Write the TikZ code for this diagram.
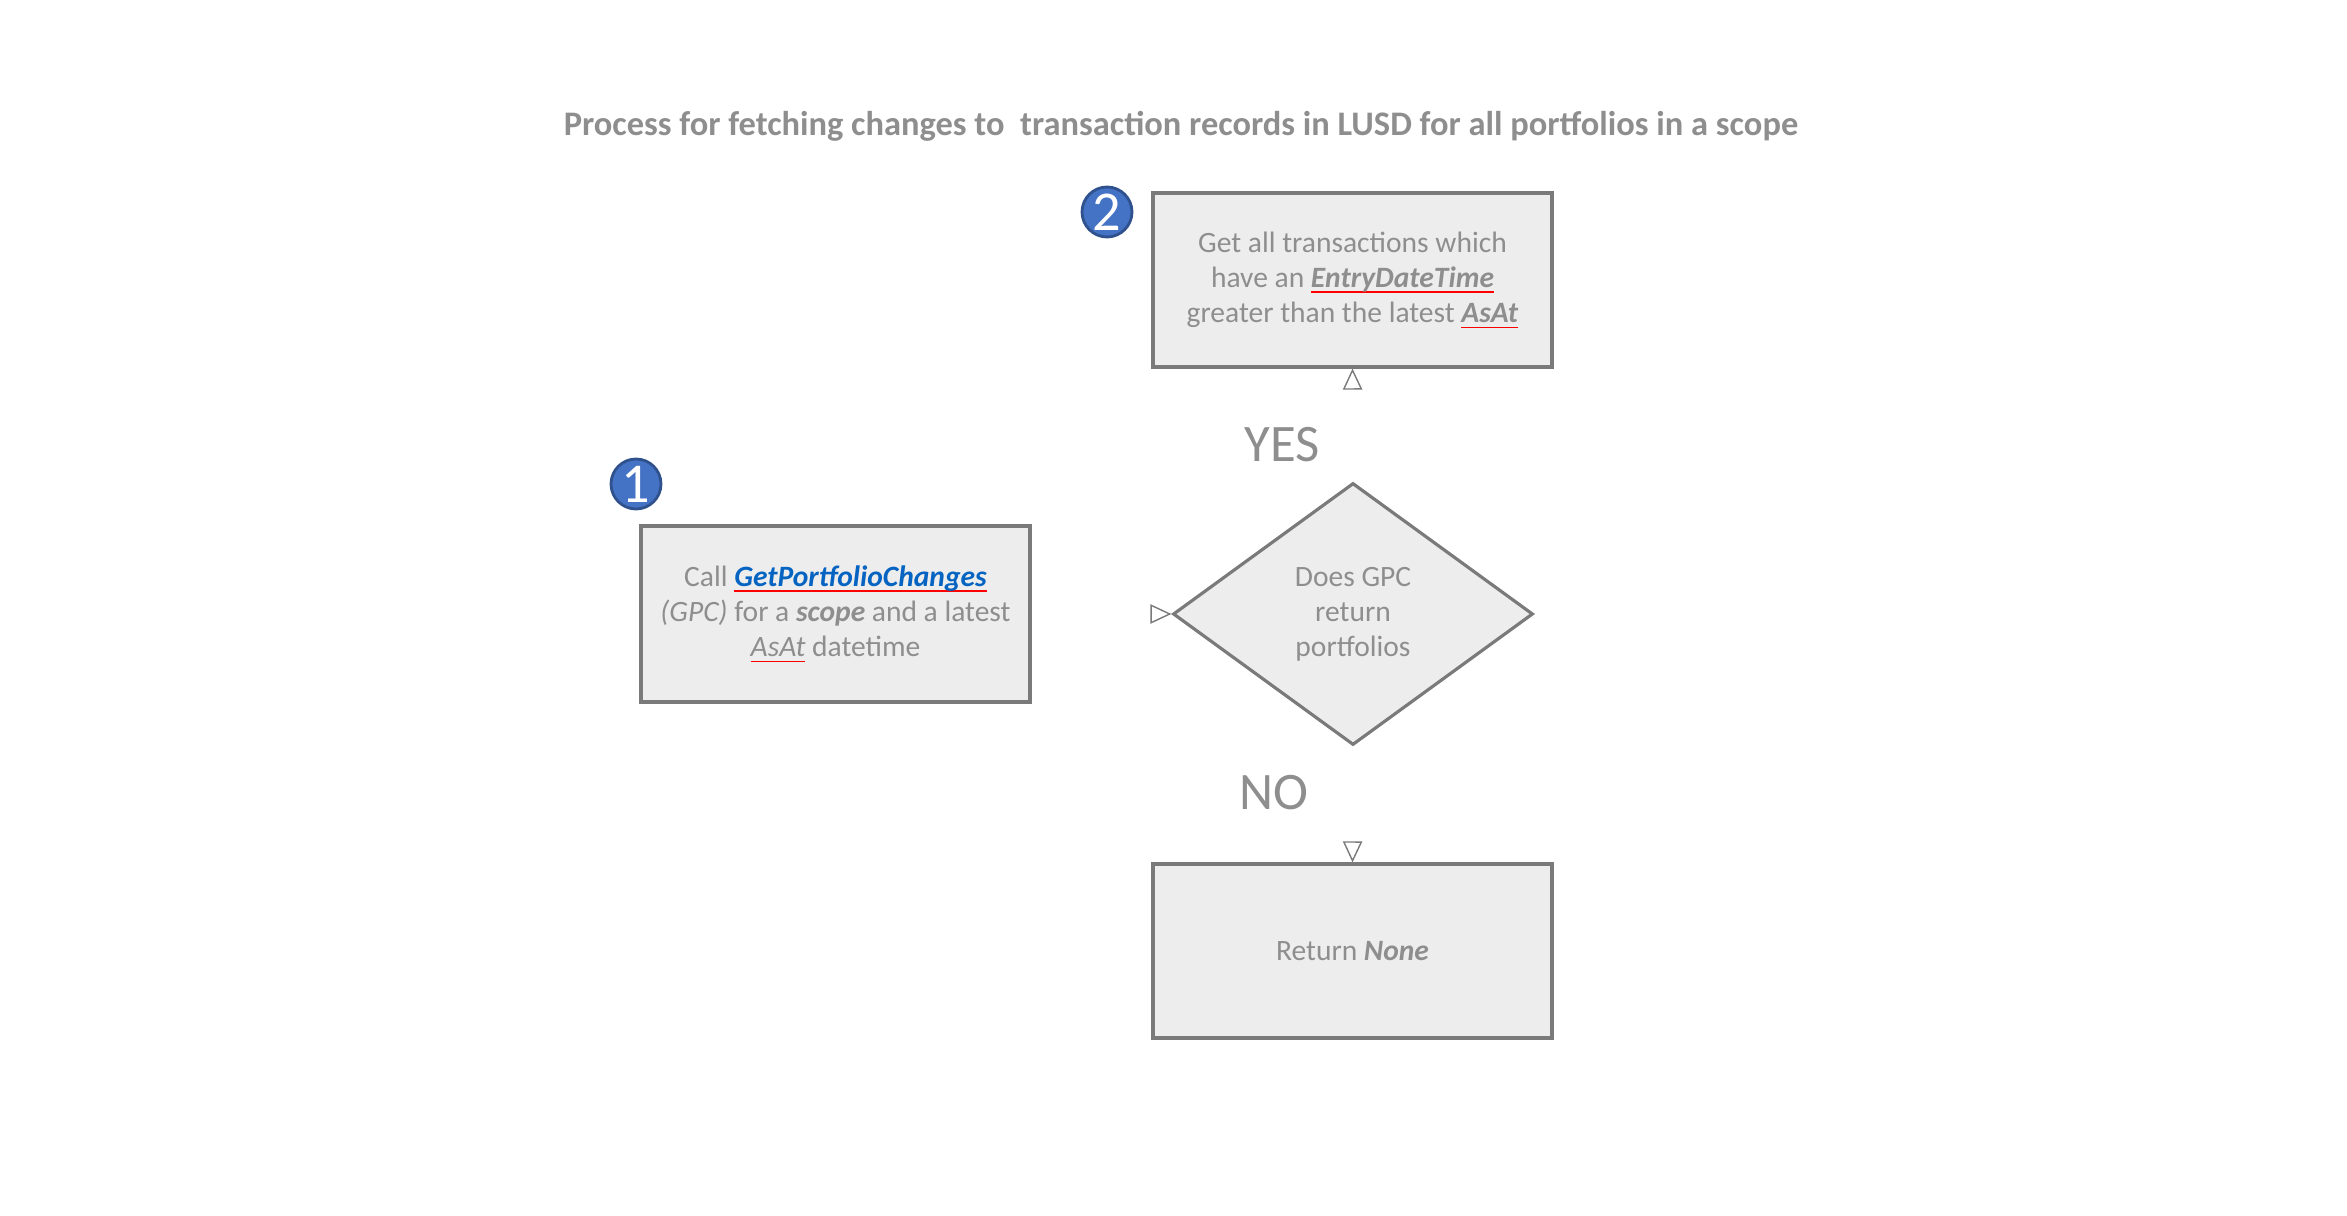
\documentclass[tikz,border=0pt]{standalone}
\usepackage{fontspec}
\setmainfont{Carlito}
\usetikzlibrary{shapes.geometric,arrows.meta}

\definecolor{cajagris}{HTML}{EDEDED}
\definecolor{bordegris}{HTML}{7A7A7A}
\definecolor{textogris}{HTML}{8E8E8E}
\definecolor{azulnum}{HTML}{4472C4}
\definecolor{azulborde}{HTML}{2F528F}
\definecolor{enlace}{HTML}{0563C1}

% subrayado rojo fino
\newcommand{\ondas}[1]{\setbox0\hbox{#1}\rlap{\textcolor{red}{\rule[-1.6pt]{\wd0}{0.45pt}}}\box0\relax}

\tikzset{
  caja/.style={rectangle, draw=bordegris, fill=cajagris, line width=0.9pt,
    minimum width=3.99cm, minimum height=1.74cm, align=center,
    text=textogris, font=\fontsize{8.4}{10}\selectfont},
  rombo/.style={diamond, draw=bordegris, fill=cajagris, line width=0.9pt,
    minimum width=3.6cm, minimum height=2.62cm, inner sep=0pt, align=center,
    text=textogris, font=\fontsize{8.4}{10}\selectfont},
  numero/.style={circle, draw=azulborde, fill=azulnum, line width=0.8pt,
    minimum size=0.5cm, inner sep=0pt, text=white, font=\fontsize{16}{16}\selectfont},
  flecha/.style={draw=white, line width=0.6pt,
    -{Triangle[open, length=6pt, width=5.5pt, color=bordegris, line width=0.4pt]}},
  etiqueta/.style={text=textogris, font=\fontsize{15}{15}\selectfont}
}

\begin{document}
\begin{tikzpicture}

  \useasboundingbox (0,0) rectangle (23.47,-12.16);

  % Titulo
  \node[text=textogris, font=\fontsize{9.8}{11}\selectfont\bfseries] (titulo) at (11.81,-1.26)
    {Process for fetching changes to\ \ transaction records in LUSD for all portfolios in a scope};

  % Paso 1
  \node[caja, minimum width=3.89cm, minimum height=1.76cm] (llamada) at (8.355,-6.14)
    {Call \textcolor{enlace}{\ondas{\textbf{\textit{GetPortfolioChanges}}}}\\
     \textit{(GPC)} for a \textbf{\textit{scope}} and a latest\\
     \ondas{\textit{AsAt}} datetime};
  \node[numero] (uno) at (6.36,-4.84) {1};

  % Decision
  \node[rombo] (pregunta) at (13.53,-6.14) {Does GPC\\ return\\ portfolios};

  % Paso 2
  \node[caja] (transacciones) at (13.525,-2.80)
    {Get all transactions which\\
     have an \ondas{\textbf{\textit{EntryDateTime}}}\\
     greater than the latest \ondas{\textbf{\textit{AsAt}}}};
  \node[numero] (dos) at (11.07,-2.12) {2};

  % Fin
  \node[caja] (ninguno) at (13.525,-9.51) {Return \textbf{\textit{None}}};

  % Etiquetas
  \node[etiqueta] (si) at (12.82,-4.45) {YES};
  \node[etiqueta] (no) at (12.74,-7.93) {NO};

  % Flechas
  \draw[flecha] (llamada.east) -- (pregunta.west);
  \draw[flecha] (pregunta.north) -- (transacciones.south);
  \draw[flecha] (pregunta.south) -- (ninguno.north);

\end{tikzpicture}
\end{document}
